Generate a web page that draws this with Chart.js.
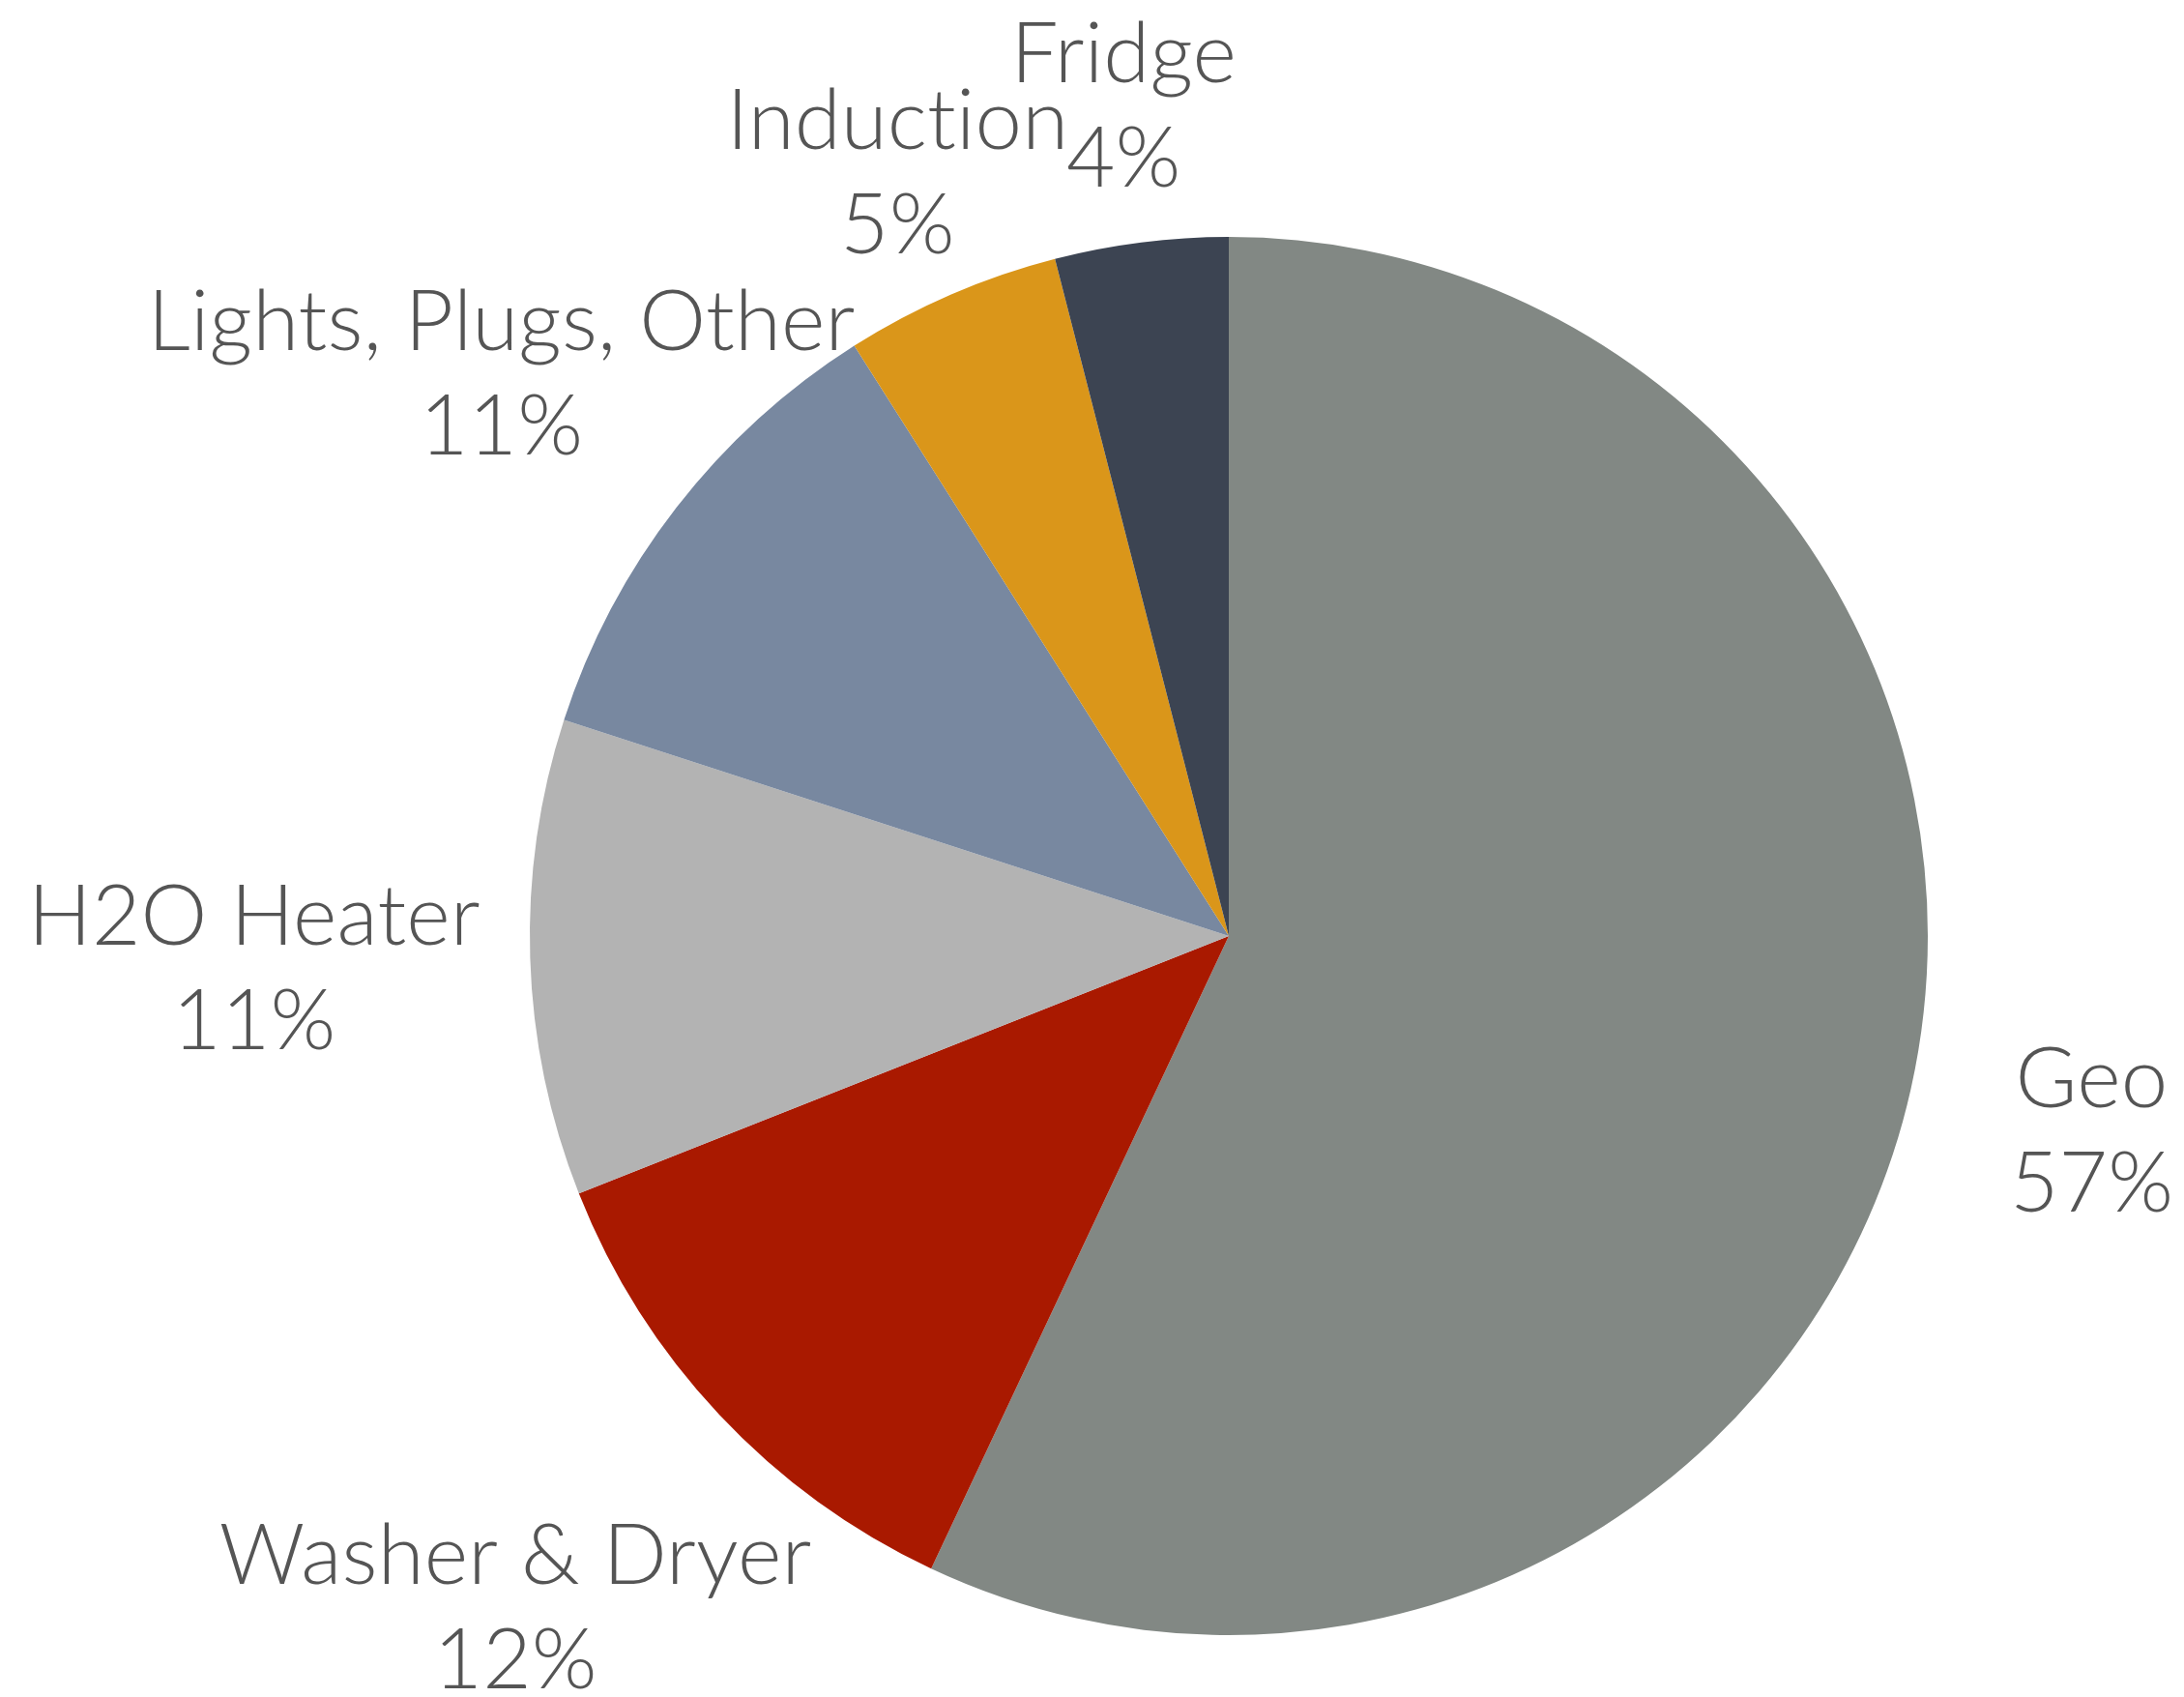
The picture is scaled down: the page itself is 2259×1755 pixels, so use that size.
<!DOCTYPE html>
<html>
<head>
<meta charset="utf-8">
<script src="https://cdn.jsdelivr.net/npm/chart.js@4/dist/chart.umd.min.js"></script>
<style>
  body { margin: 0; background: #fff; }
  #wrap { width: 2259px; height: 1755px; }
</style>
</head>
<body>
<div id="wrap"><canvas id="myChart" width="2259" height="1755"></canvas></div>
<script>
// slices, clockwise from 12 o'clock
const categories = ["Geo", "Washer & Dryer", "H2O Heater", "Lights, Plugs, Other", "Induction", "Fridge"];
const shares = [57, 12, 11, 11, 5, 4];
const sliceColors = ['#828884', '#A91900', '#B3B3B3', '#7888A0', '#DA961A', '#3C4452'];

// how far out each label sits, as a multiple of the pie radius
const labelDistance = [1.265, 1.40, 1.395, 1.317, 1.193, 1.20];

const fontSize = 87;
const lineGap = 108;

// draws "name" + "nn%" outside each slice, along the slice middle
const outsideLabels = {
    id: 'outsideLabels',
    afterDatasetsDraw(chart) {
        const ctx = chart.ctx;
        const arcs = chart.getDatasetMeta(0).data;
        const total = shares.reduce((a, b) => a + b, 0);
        ctx.save();
        ctx.fillStyle = '#555555';
        ctx.font = '300 ' + fontSize + 'px Lato';
        ctx.letterSpacing = '0.2px'; // keeps "ti" from turning into a ligature
        ctx.textAlign = 'center';
        ctx.textBaseline = 'alphabetic';
        arcs.forEach((arc, i) => {
            const p = arc.getProps(['x', 'y', 'startAngle', 'endAngle', 'outerRadius'], true);
            const mid = (p.startAngle + p.endAngle) / 2;
            const d = p.outerRadius * labelDistance[i];
            const cx = p.x + Math.cos(mid) * d;
            const cy = p.y + Math.sin(mid) * d;
            const capH = fontSize * 0.72;
            const pct = Math.round(shares[i] / total * 100) + '%';
            ctx.fillText(categories[i], cx, cy - lineGap / 2 + capH / 2);
            ctx.fillText(pct, cx, cy + lineGap / 2 + capH / 2);
        });
        ctx.restore();
    }
};

const chrt = document.getElementById('myChart');
new Chart(chrt, {
    type: 'pie',
    data: {
        labels: categories,
        datasets: [{
            data: shares,
            backgroundColor: sliceColors,
            borderWidth: 0
        }]
    },
    options: {
        responsive: false,
        animation: false,
        layout: {
            padding: { left: 548, right: 265, top: 245, bottom: 64 }
        },
        plugins: {
            legend: { display: false },
            tooltip: { enabled: false },
            title: { display: false }
        }
    },
    plugins: [outsideLabels]
});
</script>
</body>
</html>
